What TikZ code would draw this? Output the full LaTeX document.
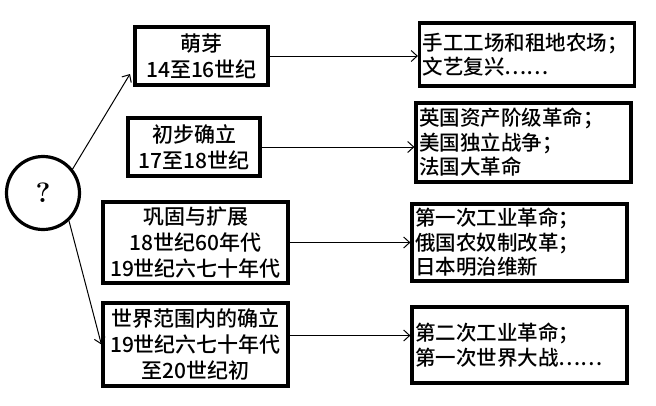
\documentclass[tikz,border=0pt]{standalone}
\usepackage{fontspec}
\newfontfamily\cjk{Noto Sans CJK SC}[UprightFont=* Medium]
\usetikzlibrary{arrows.meta}
\tikzset{
    qnode/.style = {circle, draw=black, line width=3.2pt, minimum size=73pt, inner sep=0pt, font=\normalfont\bfseries\fontsize{28}{28}\selectfont},
    stagebox/.style = {rectangle, draw=black, line width=3.2pt, align=center, inner sep=2pt, font=\cjk\fontsize{21}{26}\selectfont},
    eventbox/.style = {rectangle, draw=black, line width=3.2pt, align=left, inner xsep=3pt, inner ysep=2pt, text width=209pt, font=\cjk\fontsize{20.5}{24.5}\selectfont},
    edgea/.style = {-{Straight Barb[length=6pt,width=11pt]}, line width=1pt},
}

\begin{document}
\begin{tikzpicture}[x=1pt,y=-1pt]
\useasboundingbox (0,0) rectangle (656,405);
%
\node[qnode] at (43,193) (q) {?};
%
\node[stagebox, minimum width=133pt, minimum height=58pt] at (201.5,56) (s1) {萌芽\\14至16世纪};
\node[stagebox, minimum width=132pt, minimum height=58pt] at (194,147) (s2) {初步确立\\17至18世纪};
\node[stagebox, minimum width=185pt, minimum height=81pt] at (195.5,242.5) (s3) {巩固与扩展\\18世纪60年代\\19世纪六七十年代};
\node[stagebox, minimum width=185pt, minimum height=83pt] at (195.5,344.5) (s4) {世界范围内的确立\\19世纪六七十年代\\至20世纪初};
%
\node[eventbox, minimum height=63pt] at (527,54.5) (e1) {手工工场和租地农场；\\文艺复兴……};
\node[eventbox, minimum height=79pt] at (523.5,142.5) (e2) {英国资产阶级革命；\\美国独立战争；\\法国大革命};
\node[eventbox, minimum height=77pt] at (519.5,242.5) (e3) {第一次工业革命；\\俄国农奴制改革；\\日本明治维新};
\node[eventbox, minimum height=76pt] at (519.5,345) (e4) {第二次工业革命；\\第一次世界大战……};
%
\coordinate (t1) at (130,74);
\draw[edgea] (q.39) -- (t1);
\draw[edgea] (q.-47) -- (s4.west);
%
\draw[edgea] (s1.east) -- (s1.east -| e1.west);
\draw[edgea] (s2.east) -- (s2.east -| e2.west);
\draw[edgea] (s3.east) -- (s3.east -| e3.west);
\draw[edgea] ([yshift=9pt]s4.east) -- ([yshift=9pt]s4.east -| e4.west);

\end{tikzpicture}
\end{document}
